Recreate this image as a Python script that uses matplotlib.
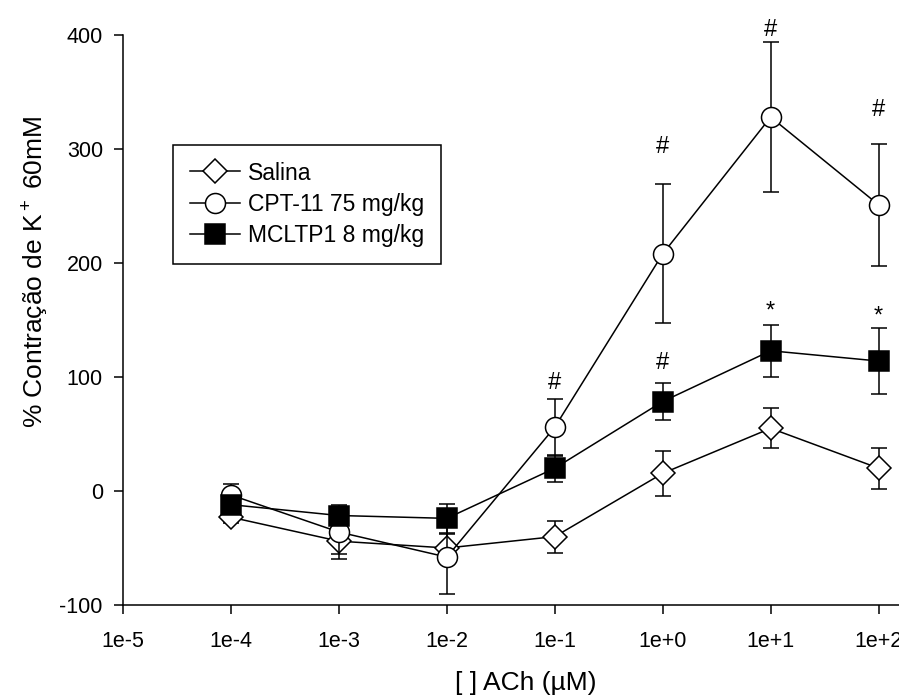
import numpy as np
import matplotlib
matplotlib.use("Agg")
import matplotlib.pyplot as plt

plt.rcParams['font.family'] = ['Liberation Sans', 'DejaVu Sans']
plt.rcParams['mathtext.fontset'] = 'custom'
plt.rcParams['mathtext.rm'] = 'Liberation Sans'
plt.rcParams['mathtext.it'] = 'Liberation Sans:italic'
plt.rcParams['axes.unicode_minus'] = False

# concentração de ACh (uM)
conc = [1e-4, 1e-3, 1e-2, 1e-1, 1e0, 1e1, 1e2]

salina = [-23, -44, -50, -40, 15.5, 55, 20]
salina_ep = [5, 11, 12, 14, 20, 17.5, 18]

cpt11 = [-3.5, -36, -58, 56, 208, 328, 251]
cpt11_ep = [10, 24, 32, 25, 61, 65.5, 53.5]

mcltp1 = [-12, -21.5, -24, 20, 78.5, 123, 114]
mcltp1_ep = [6, 5, 12.5, 12, 16, 23, 29]

# marcas de significancia
sig_x = [1e-1, 1e0, 1e1, 1e2, 1e0, 1e1, 1e2]
sig_y = [94.5, 302, 404.5, 334.5, 112.5, 157, 153]
sig_txt = ['#', '#', '#', '#', '#', '*', '*']

xticks = [1e-5, 1e-4, 1e-3, 1e-2, 1e-1, 1e0, 1e1, 1e2]
xticklabels = ['1e-5', '1e-4', '1e-3', '1e-2', '1e-1', '1e+0', '1e+1', '1e+2']
yticks = [-100, 0, 100, 200, 300, 400]

fig = plt.figure(figsize=(8.99, 6.99), dpi=100)
ax = fig.add_axes([123/899, 94/699, 788/899, 570/699])

series = [
    (salina, salina_ep, 'D', 'white', 12.0, 'Salina'),
    (cpt11, cpt11_ep, 'o', 'white', 14.4, 'CPT-11 75 mg/kg'),
    (mcltp1, mcltp1_ep, 's', 'black', 13.7, 'MCLTP1 8 mg/kg'),
]
z = 2
for vals, ep, mk, fc, ms, lab in series:
    ax.errorbar(conc, vals, yerr=ep, fmt='none', ecolor='black',
                elinewidth=1.1, capsize=5.5, capthick=1.1, zorder=z)
    ax.plot(conc, vals, color='black', lw=1.1, marker=mk, ms=ms,
            mfc=fc, mec='black', mew=1.1, label=lab, zorder=z + 1)
    z += 2

for x, y, t in zip(sig_x, sig_y, sig_txt):
    ax.text(x, y, t, ha='center', va='center', fontsize=17)

ax.set_xscale('log')
ax.set_xlim(1e-5, 10**2.3)
ax.set_ylim(-100, 400)
ax.set_xticks(xticks)
ax.set_xticklabels(xticklabels)
ax.minorticks_off()
ax.set_yticks(yticks)
ax.tick_params(direction='out', length=6.5, width=1.1, labelsize=15.5, pad=8)
ax.tick_params(axis='x', pad=12)

for s in ['top', 'right']:
    ax.spines[s].set_visible(False)
for s in ['left', 'bottom']:
    ax.spines[s].set_linewidth(1.1)

ax.set_xlabel('[ ] ACh (\u00b5M)', fontsize=19)
ax.set_ylabel('% Contração de K$^+$ 60mM', fontsize=19)
ax.xaxis.set_label_coords(0.511, -0.116)
ax.yaxis.set_label_coords(-0.092, 0.584)

leg = ax.legend(loc='upper left', bbox_to_anchor=(0.0635, 0.807),
                borderaxespad=0, fancybox=False, edgecolor='black',
                fontsize=16.5, handlelength=2.2, handletextpad=0.36,
                borderpad=0.72, labelspacing=0.36, framealpha=1)
leg.get_frame().set_linewidth(1.1)

fig.savefig('out.png', dpi=100)
